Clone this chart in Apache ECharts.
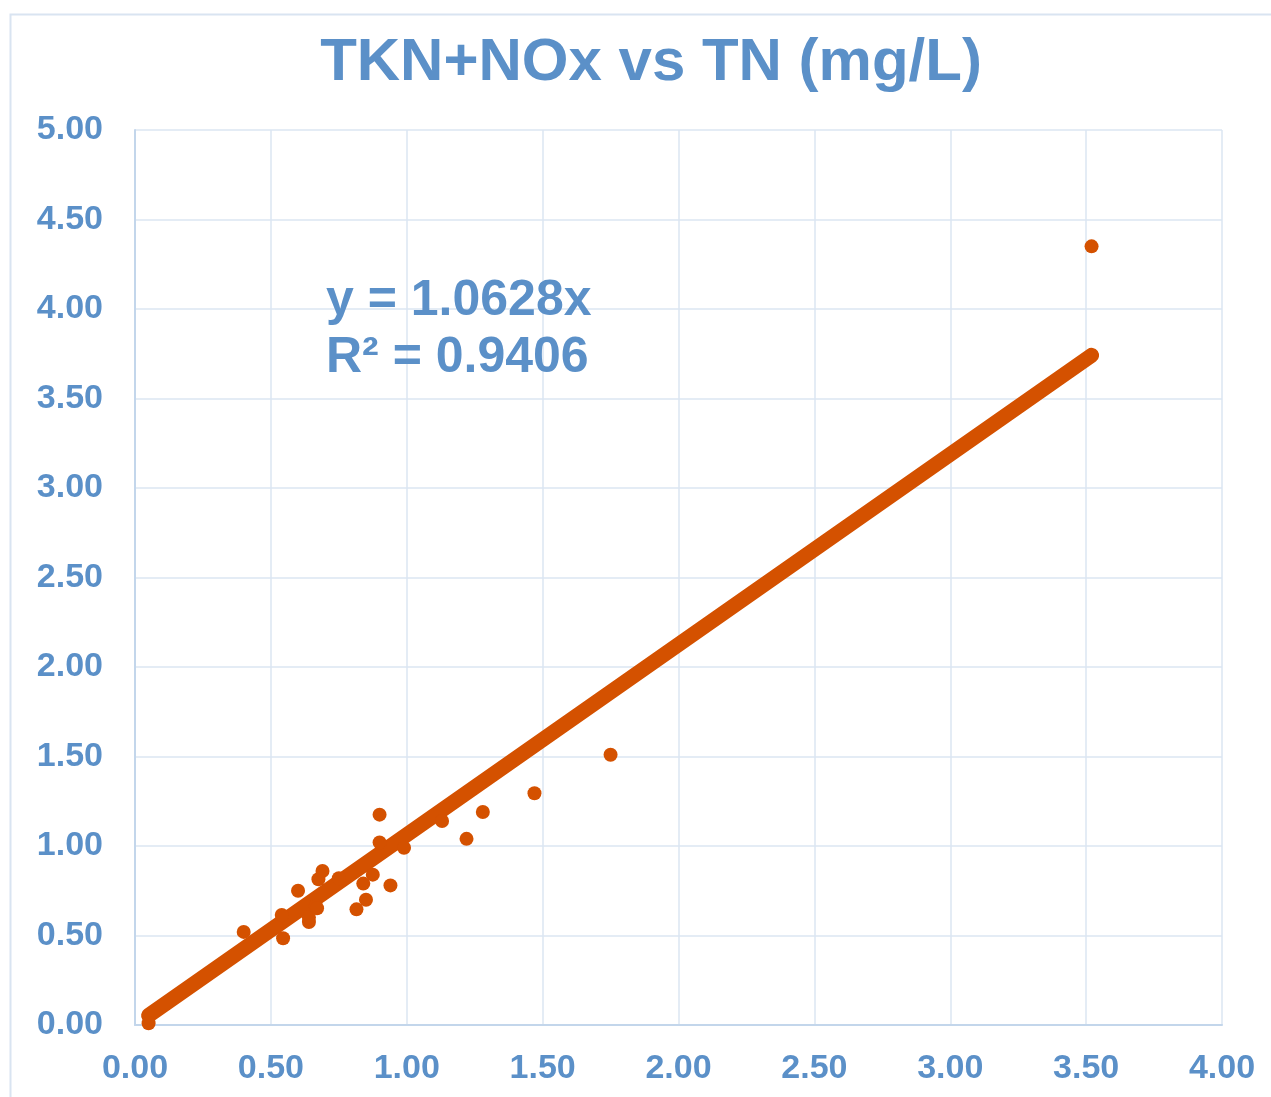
<!DOCTYPE html>
<html>
<head>
<meta charset="utf-8">
<title>TKN+NOx vs TN (mg/L)</title>
<script src="https://cdn.jsdelivr.net/npm/echarts@6/dist/echarts.min.js"></script>
<style>
  html, body { margin: 0; padding: 0; background: #ffffff; }
  #chart { width: 1271px; height: 1097px; }
</style>
</head>
<body>
<div id="chart"></div>
<script>
// Total nitrogen (x) against TKN + NOx (y), mg/L
const tn = [0.05, 0.40, 0.52, 0.54, 0.545, 0.60, 0.64, 0.64, 0.665, 0.67, 0.675, 0.69, 0.75,
            0.815, 0.84, 0.85, 0.875, 0.90, 0.90, 0.94, 0.99, 1.13, 1.22, 1.28, 1.47, 1.75, 3.52];
const tknNox = [0.01, 0.52, 0.55, 0.615, 0.485, 0.75, 0.575, 0.60, 0.665, 0.652, 0.814, 0.86, 0.82,
                0.646, 0.79, 0.70, 0.84, 1.02, 1.175, 0.78, 0.99, 1.14, 1.04, 1.19, 1.295, 1.51, 4.35];

// Linear fit through the origin
const slope = 1.0628;
const rSquared = 0.9406;

const xTicks = { min: 0, max: 4, interval: 0.5 };
const yTicks = { min: 0, max: 5, interval: 0.5 };

const points = tn.map((x, i) => [x, tknNox[i]]);
const xMin = Math.min(...tn), xMax = Math.max(...tn);
const trend = [[xMin, slope * xMin], [xMax, slope * xMax]];

const textBlue = '#5b90c8';
const orange = '#d45100';
const gridBlue = '#dbe6f2';
const axisBlue = '#c3d6eb';
const font = '"Liberation Sans", Arial, Helvetica, sans-serif';

const chart = echarts.init(document.getElementById('chart'), null, { renderer: 'canvas' });

chart.setOption({
  backgroundColor: '#ffffff',
  animation: false,
  title: [{
    text: 'TKN+NOx vs TN (mg/L)',
    left: 646, top: 28, textAlign: 'center',
    textStyle: { color: textBlue, fontFamily: font, fontWeight: 'bold', fontSize: 60 }
  }, {
    text: 'y = ' + slope.toFixed(4) + 'x\nR² = ' + rSquared.toFixed(4),
    left: 321, top: 268,
    textStyle: { color: textBlue, fontFamily: font, fontWeight: 'bold', fontSize: 50, lineHeight: 57 }
  }],
  graphic: [{
    type: 'rect', silent: true, z: -1,
    shape: { x: 10.5, y: 14.5, width: 1300, height: 1200 },
    style: { fill: 'none', stroke: '#d9e4f1', lineWidth: 2 }
  }],
  grid: { left: 135, top: 130, right: 49, bottom: 72, containLabel: false },
  xAxis: {
    type: 'value',
    min: xTicks.min, max: xTicks.max, interval: xTicks.interval,
    axisLine: { show: true, onZero: false, lineStyle: { color: axisBlue, width: 2 } },
    axisTick: { show: false },
    splitLine: { show: true, lineStyle: { color: gridBlue, width: 1.5 } },
    axisLabel: {
      margin: 27, color: textBlue, fontFamily: font, fontWeight: 'bold', fontSize: 34,
      formatter: v => v.toFixed(2)
    }
  },
  yAxis: {
    type: 'value',
    min: yTicks.min, max: yTicks.max, interval: yTicks.interval,
    axisLine: { show: true, onZero: false, lineStyle: { color: axisBlue, width: 2 } },
    axisTick: { show: false },
    splitLine: { show: true, lineStyle: { color: gridBlue, width: 1.5 } },
    axisLabel: {
      margin: 32, color: textBlue, fontFamily: font, fontWeight: 'bold', fontSize: 34,
      formatter: v => v.toFixed(2)
    }
  },
  series: [{
    name: 'Linear fit',
    type: 'line',
    data: trend,
    showSymbol: false,
    symbol: 'none',
    lineStyle: { color: orange, width: 15, cap: 'round' },
    z: 2
  }, {
    name: 'TKN+NOx',
    type: 'scatter',
    data: points,
    symbol: 'circle',
    symbolSize: 14,
    itemStyle: { color: orange, opacity: 1 },
    z: 3
  }]
});
</script>
</body>
</html>
